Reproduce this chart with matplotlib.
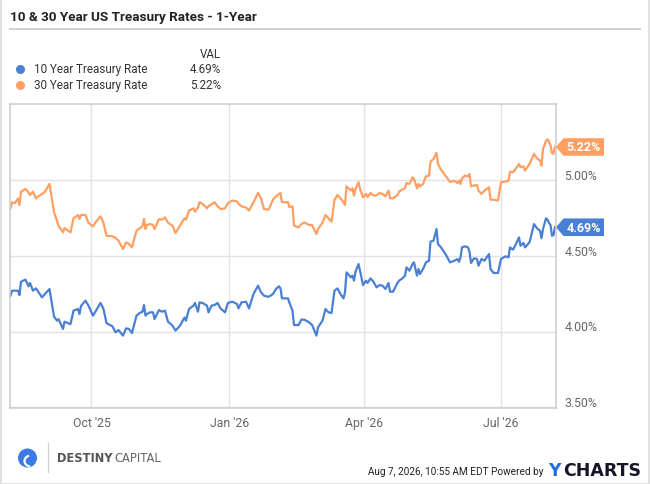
import numpy as np
import pandas as pd
import matplotlib
matplotlib.use("Agg")
import matplotlib.pyplot as plt
import matplotlib.dates as mdates
import matplotlib.transforms as mtransforms
from matplotlib.patches import Polygon, Rectangle, Circle, Arc
from matplotlib.lines import Line2D

plt.rcParams['font.family'] = ['Roboto', 'DejaVu Sans']

# ---- data ----
dates = [
    "2025-08-08", "2025-08-09", "2025-08-11", "2025-08-13", "2025-08-14", "2025-08-15", "2025-08-18",
    "2025-08-20", "2025-08-21", "2025-08-23", "2025-08-25", "2025-08-26", "2025-08-29", "2025-08-31",
    "2025-09-03", "2025-09-06", "2025-09-08", "2025-09-09", "2025-09-12", "2025-09-13", "2025-09-17",
    "2025-09-19", "2025-09-22", "2025-09-23", "2025-09-24", "2025-09-27", "2025-09-29",
    "2025-10-02", "2025-10-04", "2025-10-07", "2025-10-09", "2025-10-11", "2025-10-15", "2025-10-17",
    "2025-10-19", "2025-10-22", "2025-10-24", "2025-10-26", "2025-10-28", "2025-10-31",
    "2025-11-02", "2025-11-04", "2025-11-05", "2025-11-06", "2025-11-07", "2025-11-09", "2025-11-11",
    "2025-11-12", "2025-11-15", "2025-11-17", "2025-11-19", "2025-11-21", "2025-11-24", "2025-11-26", "2025-11-29",
    "2025-12-02", "2025-12-03", "2025-12-05", "2025-12-08", "2025-12-09", "2025-12-11", "2025-12-12", "2025-12-14",
    "2025-12-17", "2025-12-18", "2025-12-20", "2025-12-22", "2025-12-24", "2025-12-26", "2025-12-29", "2025-12-31",
    "2026-01-03", "2026-01-06", "2026-01-07", "2026-01-09", "2026-01-12", "2026-01-14", "2026-01-17",
    "2026-01-20", "2026-01-22", "2026-01-24", "2026-01-27", "2026-01-30",
    "2026-02-01", "2026-02-03", "2026-02-04", "2026-02-05", "2026-02-09", "2026-02-10", "2026-02-12",
    "2026-02-13", "2026-02-16", "2026-02-18", "2026-02-20", "2026-02-23", "2026-02-25", "2026-02-28",
    "2026-03-01", "2026-03-04", "2026-03-06", "2026-03-08", "2026-03-10", "2026-03-12", "2026-03-14", "2026-03-16", "2026-03-18",
    "2026-03-19", "2026-03-20", "2026-03-23", "2026-03-24", "2026-03-25", "2026-03-26", "2026-03-28", "2026-03-29", "2026-03-31",
    "2026-04-02", "2026-04-03", "2026-04-05", "2026-04-07", "2026-04-09", "2026-04-11", "2026-04-13", "2026-04-15",
    "2026-04-17", "2026-04-18", "2026-04-20", "2026-04-23", "2026-04-24", "2026-04-26", "2026-04-28", "2026-04-29",
    "2026-05-01", "2026-05-03", "2026-05-04", "2026-05-06", "2026-05-07", "2026-05-08", "2026-05-10", "2026-05-12", "2026-05-14",
    "2026-05-15", "2026-05-17", "2026-05-19", "2026-05-20", "2026-05-22", "2026-05-25", "2026-05-28", "2026-05-31",
    "2026-06-02", "2026-06-03", "2026-06-04", "2026-06-05", "2026-06-07", "2026-06-09", "2026-06-10", "2026-06-11", "2026-06-13",
    "2026-06-15", "2026-06-16", "2026-06-18", "2026-06-20", "2026-06-23", "2026-06-24", "2026-06-26", "2026-06-29",
    "2026-07-01", "2026-07-04", "2026-07-06", "2026-07-07", "2026-07-09", "2026-07-11", "2026-07-13", "2026-07-14", "2026-07-16",
    "2026-07-17", "2026-07-20", "2026-07-23", "2026-07-25", "2026-07-27", "2026-07-28", "2026-07-29", "2026-07-31",
    "2026-08-01", "2026-08-02", "2026-08-03", "2026-08-04", "2026-08-05", "2026-08-06",
]

ten_year = [
    4.238, 4.271, 4.271, 4.271, 4.242, 4.33, 4.344, 4.30, 4.322, 4.271, 4.286, 4.271, 4.227, 4.249,
    4.282, 4.10, 4.073, 4.083, 4.018, 4.066, 4.05, 4.139, 4.15, 4.117, 4.17, 4.205, 4.172,
    4.106, 4.139, 4.19, 4.15, 4.057, 4.035, 3.996, 4.011, 3.974, 4.022, 4.018, 3.991, 4.106,
    4.123, 4.132, 4.176, 4.106, 4.117, 4.128, 4.128, 4.084, 4.143, 4.132, 4.139, 4.066, 4.04, 4.007, 4.04,
    4.094, 4.073, 4.15, 4.172, 4.19, 4.132, 4.194, 4.19, 4.172, 4.128, 4.172, 4.176, 4.19, 4.154, 4.128, 4.19,
    4.198, 4.183, 4.154, 4.194, 4.198, 4.154, 4.249, 4.304, 4.26, 4.238, 4.23, 4.249,
    4.282, 4.30, 4.286, 4.22, 4.22, 4.19, 4.139, 4.044, 4.044, 4.08, 4.079, 4.062, 4.045, 3.974,
    4.029, 4.073, 4.15, 4.128, 4.123, 4.271, 4.286, 4.249, 4.22, 4.26, 4.392, 4.359, 4.37, 4.337, 4.396, 4.447, 4.403, 4.308,
    4.337, 4.322, 4.352, 4.33, 4.293, 4.308, 4.304, 4.282, 4.322, 4.264, 4.264, 4.322, 4.337, 4.35, 4.37, 4.425,
    4.403, 4.447, 4.458, 4.37, 4.414, 4.381, 4.414, 4.458, 4.469, 4.595, 4.601, 4.678, 4.579, 4.557, 4.513, 4.458, 4.469,
    4.48, 4.462, 4.491, 4.557, 4.564, 4.557, 4.528, 4.454, 4.485, 4.48, 4.436, 4.48, 4.469, 4.513, 4.414, 4.388, 4.388,
    4.48, 4.498, 4.491, 4.557, 4.542, 4.579, 4.623, 4.568, 4.586, 4.557, 4.59, 4.711, 4.683, 4.667, 4.617, 4.678, 4.749,
    4.74, 4.718, 4.705, 4.634, 4.638, 4.69,
]

thirty_year = [
    4.815, 4.855, 4.85, 4.88, 4.837, 4.925, 4.943, 4.92, 4.903, 4.925, 4.88, 4.89, 4.91, 4.925,
    4.976, 4.79, 4.733, 4.70, 4.656, 4.685, 4.656, 4.749, 4.771, 4.745, 4.771, 4.771, 4.718,
    4.696, 4.727, 4.762, 4.718, 4.634, 4.63, 4.62, 4.601, 4.546, 4.59, 4.579, 4.557, 4.667,
    4.683, 4.696, 4.745, 4.678, 4.705, 4.711, 4.705, 4.678, 4.744, 4.74, 4.755, 4.72, 4.70, 4.652, 4.70,
    4.749, 4.74, 4.80, 4.815, 4.793, 4.82, 4.856, 4.844, 4.815, 4.83, 4.84, 4.855, 4.83, 4.81, 4.815, 4.85,
    4.866, 4.86, 4.845, 4.828, 4.82, 4.80, 4.855, 4.916, 4.88, 4.81, 4.806, 4.872,
    4.894, 4.91, 4.916, 4.855, 4.855, 4.822, 4.828, 4.70, 4.689, 4.711, 4.722, 4.705, 4.705, 4.645,
    4.678, 4.72, 4.771, 4.749, 4.727, 4.87, 4.903, 4.881, 4.855, 4.837, 4.96, 4.932, 4.947, 4.899, 4.943, 4.987, 4.943, 4.888,
    4.91, 4.89, 4.916, 4.90, 4.90, 4.916, 4.91, 4.894, 4.932, 4.881, 4.881, 4.903, 4.925, 4.938, 4.947, 4.982,
    4.976, 5.02, 5.009, 4.947, 4.976, 4.96, 4.976, 5.026, 5.031, 5.123, 5.141, 5.181, 5.108, 5.07, 5.03, 4.99, 4.996,
    4.982, 4.998, 4.976, 5.013, 5.031, 5.026, 5.042, 4.96, 4.965, 4.969, 4.932, 4.91, 4.932, 4.954, 4.872, 4.872, 4.866,
    4.987, 4.991, 4.998, 5.057, 5.053, 5.079, 5.108, 5.086, 5.092, 5.064, 5.108, 5.174, 5.145, 5.13, 5.097, 5.207, 5.26,
    5.27, 5.256, 5.233, 5.181, 5.174, 5.22,
]

series_names = ["10 Year Treasury Rate", "30 Year Treasury Rate"]
last_vals = [4.69, 5.22]
y_ticks = [3.5, 4.0, 4.5, 5.0]

blue = '#4a80d4'
orange = '#ff9f62'
colors = [blue, orange]

x = pd.to_datetime(dates)

fig = plt.figure(figsize=(6.5, 4.85), dpi=100)
W, H = 650.0, 485.0

def fx(px):
    return px / W

def fy(py):
    return 1 - py / H

# card border + title
fig.add_artist(Rectangle((0.0008, 0.001), 0.9976, 0.998, transform=fig.transFigure,
                         fill=False, edgecolor='#dcdcdc', lw=1.2))
fig.text(fx(10), fy(17), "10 & 30 Year US Treasury Rates - 1-Year", fontsize=9.7,
         fontweight='bold', color='#222222', ha='left', va='center')
fig.add_artist(Line2D([fx(10), fx(640)], [fy(30), fy(30)], transform=fig.transFigure,
                      color='#cccccc', lw=1.3))

# legend block
fig.text(fx(221), fy(54), "VAL", fontsize=8.4, color='#333333', ha='right', va='center')
for i, name in enumerate(series_names):
    yy = fy(70 + 15.7 * i)
    fig.add_artist(Line2D([fx(20)], [yy], transform=fig.transFigure, marker='o',
                          markersize=5.5, color=colors[i], lw=0))
    fig.text(fx(34), yy, name, fontsize=8.4, color='#333333', ha='left', va='center')
    fig.text(fx(221), yy, '%.2f%%' % last_vals[i], fontsize=8.4, color='#333333',
             ha='right', va='center')

# main axes
ax = fig.add_axes([fx(10), fy(409), fx(546), 304 / H])
ax.plot(x, ten_year, color=blue, lw=1.6, solid_joinstyle='round')
ax.plot(x, thirty_year, color=orange, lw=1.6, solid_joinstyle='round')

ax.set_xlim(pd.Timestamp("2025-08-07 16:00"), pd.Timestamp("2026-08-06 16:00"))
ax.set_ylim(3.496, 5.504)
ax.xaxis.set_major_locator(mdates.MonthLocator(bymonth=[1, 4, 7, 10]))
ax.xaxis.set_major_formatter(mdates.DateFormatter("%b '%y"))
ax.set_yticks(y_ticks)
ax.set_yticklabels([])
ax.tick_params(axis='both', length=0)
ax.tick_params(axis='x', pad=6, labelsize=8.8, labelcolor='#666666')
ax.grid(True, color='#e3e3e3', lw=1)
ax.set_axisbelow(True)
for s in ax.spines.values():
    s.set_color('#cccccc')
    s.set_linewidth(1.1)

# right-side y labels, sitting a little above their gridlines
ylab_trans = mtransforms.blended_transform_factory(ax.transAxes, ax.transData)
ylab_trans = ylab_trans + mtransforms.ScaledTranslation(6 / 72, 3.5 / 72, fig.dpi_scale_trans)
for v in y_ticks:
    ax.text(1.0, v, '%.2f%%' % v, transform=ylab_trans, fontsize=8.8, color='#666666',
            ha='left', va='center', clip_on=False)

# last value tags
for i, v in enumerate(last_vals):
    anchor = fig.dpi_scale_trans + mtransforms.ScaledTranslation(
        1.0, v, mtransforms.blended_transform_factory(ax.transAxes, ax.transData))
    tag = Polygon([(0.0, 0.0), (0.075, 0.088), (0.48, 0.088), (0.48, -0.088), (0.075, -0.088)],
                  closed=True, transform=anchor, facecolor=colors[i], edgecolor='none', clip_on=False)
    ax.add_patch(tag)
    ax.text(0.275, 0.0, '%.2f%%' % v, transform=anchor, color='white', fontsize=9,
            fontweight='bold', ha='center', va='center', clip_on=False)

# footer: logo + credit
logo_tr = fig.dpi_scale_trans
fig.add_artist(Circle((0.275, (H - 459) / 100), 0.095, transform=logo_tr,
                      facecolor='#3c7be6', edgecolor='none'))
fig.add_artist(Arc((0.31, (H - 462) / 100), 0.13, 0.11, theta1=110, theta2=260,
                   transform=logo_tr, color='white', lw=1.6))
fig.add_artist(Line2D([fx(47.5), fx(47.5)], [fy(444), fy(473)], transform=fig.transFigure,
                      color='#cfcfcf', lw=0.9))
fig.text(fx(57), fy(459), "DESTINY", fontsize=8.3, fontweight='bold', color='#555555',
         family=['DejaVu Sans'], ha='left', va='center')
fig.text(fx(114), fy(459), "CAPITAL", fontsize=8.3, color='#666666',
         family=['DejaVu Sans'], ha='left', va='center')

fig.text(fx(543), fy(472), "Aug 7, 2026, 10:55 AM EDT Powered by", fontsize=7.2,
         color='#222222', ha='right', va='center')
fig.text(fx(548), fy(471), "Y", fontsize=12.5, fontweight='bold', color='#1f6fe0',
         family=['DejaVu Sans'], ha='left', va='center')
fig.text(fx(641), fy(471), "CHARTS", fontsize=12.5, fontweight='bold', color='#15152a',
         family=['DejaVu Sans'], ha='right', va='center')

fig.savefig("out.png", dpi=100)
